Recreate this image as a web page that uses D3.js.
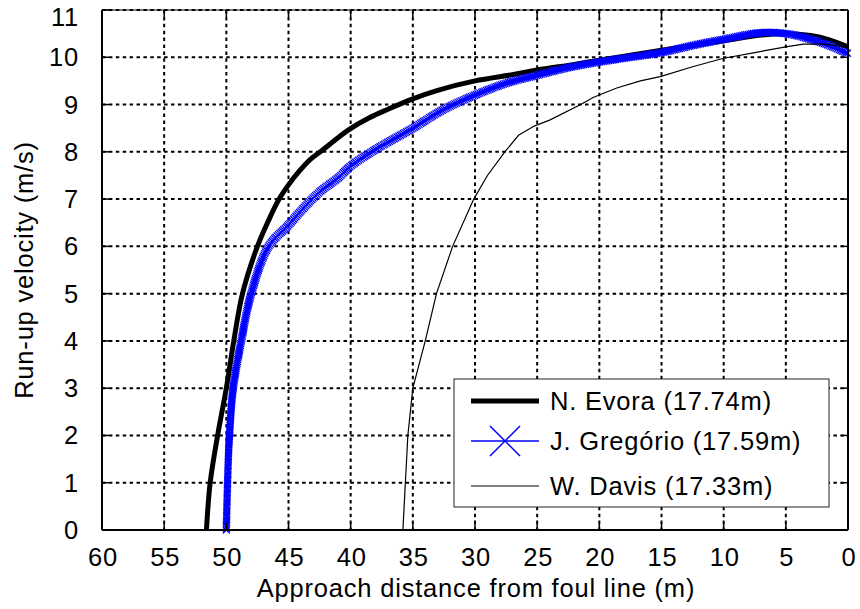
<!DOCTYPE html>
<html>
<head>
<meta charset="utf-8">
<script src="https://cdn.jsdelivr.net/npm/d3@7"></script>
<style>
  body { margin: 0; background: #fff; }
  svg text { font-family: "Liberation Sans", Arial, sans-serif; fill: #000; letter-spacing: 0.8px; }
</style>
</head>
<body>
<div id="chart"></div>
<script>
// distance from foul line (m) / run-up velocity (m/s)
var evoraDist = [51.6, 51.3, 50.7, 50.0, 49.4, 48.7, 47.5, 46.6, 45.8, 45.0, 44.1, 43.2, 42.2, 41.2, 40.2, 38.5, 37.0, 35.0, 33.0, 30.0, 27.0, 25.0, 22.0, 20.0, 15.0, 10.0, 7.0, 5.0, 3.0, 1.5, 0];
var evoraVel  = [0, 1, 2, 3, 4, 5, 6, 6.55, 6.98, 7.3, 7.6, 7.85, 8.05, 8.26, 8.46, 8.72, 8.9, 9.12, 9.3, 9.5, 9.63, 9.73, 9.85, 9.94, 10.15, 10.35, 10.47, 10.5, 10.46, 10.37, 10.22];

var gregDist = [50.0, 49.9, 49.75, 49.45, 48.8, 48.0, 46.6, 45.0, 44.0, 42.5, 41.0, 40.0, 38.0, 35.0, 32.5, 30.0, 27.5, 25.0, 22.5, 20.0, 17.5, 15.0, 12.5, 10.0, 7.0, 5.0, 3.0, 1.5, 0];
var gregVel  = [0, 1, 2, 3, 4, 5, 6, 6.45, 6.75, 7.15, 7.45, 7.7, 8.05, 8.5, 8.9, 9.2, 9.45, 9.62, 9.78, 9.9, 10.0, 10.1, 10.25, 10.38, 10.52, 10.5, 10.38, 10.25, 10.08];

var davisDist = [35.8, 35.7, 35.6, 35.4, 35.0, 34.0, 33.1, 31.8, 30.1, 29.0, 27.6, 26.5, 25.2, 24.0, 21.5, 20.5, 18.6, 16.7, 15.1, 12.5, 10.0, 7.5, 5.0, 3.6, 2.0, 1.0, 0];
var davisVel  = [0, 0.5, 1, 2, 3, 4, 5, 6, 7, 7.5, 8.0, 8.35, 8.55, 8.67, 9.0, 9.15, 9.35, 9.5, 9.59, 9.8, 9.98, 10.1, 10.22, 10.28, 10.28, 10.25, 10.2];

var xTicks = [60, 55, 50, 45, 40, 35, 30, 25, 20, 15, 10, 5, 0];
var yTicks = [0, 1, 2, 3, 4, 5, 6, 7, 8, 9, 10, 11];
var legendNames = ["N. Evora (17.74m)", "J. Gregório (17.59m)", "W. Davis (17.33m)"];

var W = 860, H = 609;
var pL = 102, pR = 848, pT = 10, pB = 530;
var fs = 25.5;

var svg = d3.select("#chart").append("svg")
    .attr("width", W)
    .attr("height", H);

var x = d3.scaleLinear().domain([60, 0]).range([pL, pR]);
var y = d3.scaleLinear().domain([0, 11]).range([pB, pT]);

function zipped(ds, vs) {
    return ds.map(function (d, i) { return [d, vs[i]]; });
}

// grid (dotted)
var dash = "3.5,3.4";
var grid = svg.append("g").attr("class", "grid");
grid.selectAll("line.vx")
    .data(xTicks.filter(function (t) { return t != 60 && t != 0; }))
    .enter().append("line")
    .attr("x1", function (d) { return x(d); })
    .attr("x2", function (d) { return x(d); })
    .attr("y1", pT).attr("y2", pB)
    .attr("stroke", "#000").attr("stroke-width", 2)
    .attr("stroke-dasharray", dash);
grid.selectAll("line.hy")
    .data(yTicks.filter(function (t) { return t != 0 && t != 11; }))
    .enter().append("line")
    .attr("y1", function (d) { return y(d); })
    .attr("y2", function (d) { return y(d); })
    .attr("x1", pL).attr("x2", pR)
    .attr("stroke", "#000").attr("stroke-width", 2)
    .attr("stroke-dasharray", dash);
grid.append("line").attr("x1", pL).attr("x2", pR).attr("y1", y(11)).attr("y2", y(11))
    .attr("stroke", "#000").attr("stroke-width", 2).attr("stroke-dasharray", dash);

var line = d3.line()
    .x(function (d) { return x(d[0]); })
    .y(function (d) { return y(d[1]); });
var smooth = d3.line()
    .curve(d3.curveCatmullRom.alpha(0.5))
    .x(function (d) { return x(d[0]); })
    .y(function (d) { return y(d[1]); });

var plot = svg.append("g");

// N. Evora - thick black
plot.append("path")
    .datum(zipped(evoraDist, evoraVel))
    .attr("d", smooth)
    .attr("fill", "none")
    .attr("stroke", "#000")
    .attr("stroke-width", 5)
    .attr("stroke-linejoin", "round");

// J. Gregorio - blue with dense x markers
var gPath = plot.append("path")
    .datum(zipped(gregDist, gregVel))
    .attr("d", smooth)
    .attr("fill", "none")
    .attr("stroke", "#0000ff")
    .attr("stroke-width", 1.5);

var node = gPath.node();
var len = node.getTotalLength();
var mk = [];
for (var s = 0; s <= len; s += 1.8) {
    mk.push(node.getPointAtLength(s));
}
var m = 3.5;
plot.append("path")
    .attr("d", mk.map(function (p) {
        return "M" + (p.x - m) + "," + (p.y - m) + "L" + (p.x + m) + "," + (p.y + m) +
            "M" + (p.x - m) + "," + (p.y + m) + "L" + (p.x + m) + "," + (p.y - m);
    }).join(""))
    .attr("fill", "none")
    .attr("stroke", "#0000ff")
    .attr("stroke-width", 1.2);

// W. Davis - thin black
plot.append("path")
    .datum(zipped(davisDist, davisVel))
    .attr("d", line)
    .attr("fill", "none")
    .attr("stroke", "#000")
    .attr("stroke-width", 1.2);

// frame
svg.append("line").attr("x1", pL).attr("x2", pL).attr("y1", pT).attr("y2", pB)
    .attr("stroke", "#000").attr("stroke-width", 2);
svg.append("line").attr("x1", pL).attr("x2", pR).attr("y1", pB).attr("y2", pB)
    .attr("stroke", "#000").attr("stroke-width", 2);
svg.append("line").attr("x1", pR).attr("x2", pR).attr("y1", pT).attr("y2", pB)
    .attr("stroke", "#000").attr("stroke-width", 2);
svg.append("line").attr("x1", pL).attr("x2", pR).attr("y1", pT).attr("y2", pT)
    .attr("stroke", "#000").attr("stroke-width", 1);

// ticks inward on all sides
var tk = 7;
xTicks.forEach(function (t) {
    svg.append("line").attr("x1", x(t)).attr("x2", x(t)).attr("y1", pB).attr("y2", pB - tk)
        .attr("stroke", "#000").attr("stroke-width", 1.5);
    svg.append("line").attr("x1", x(t)).attr("x2", x(t)).attr("y1", pT).attr("y2", pT + tk)
        .attr("stroke", "#000").attr("stroke-width", 1.5);
});
yTicks.forEach(function (t) {
    svg.append("line").attr("x1", pL).attr("x2", pL + tk).attr("y1", y(t)).attr("y2", y(t))
        .attr("stroke", "#000").attr("stroke-width", 1.5);
    svg.append("line").attr("x1", pR).attr("x2", pR - tk).attr("y1", y(t)).attr("y2", y(t))
        .attr("stroke", "#000").attr("stroke-width", 1.5);
});

// tick labels
svg.selectAll("text.xt")
    .data(xTicks)
    .enter().append("text")
    .attr("x", function (d) { return x(d) + 1; })
    .attr("y", 566)
    .attr("text-anchor", "middle")
    .style("font-size", fs + "px")
    .text(function (d) { return d; });

svg.selectAll("text.yt")
    .data(yTicks)
    .enter().append("text")
    .attr("x", 79)
    .attr("y", function (d) { return Math.max(y(d) + 9, 26); })
    .attr("text-anchor", "end")
    .style("font-size", fs + "px")
    .text(function (d) { return d; });

// axis labels
svg.append("text")
    .attr("x", (pL + pR) / 2 + 1)
    .attr("y", 597)
    .attr("text-anchor", "middle")
    .style("font-size", fs + "px")
    .text("Approach distance from foul line (m)");

svg.append("text")
    .attr("transform", "translate(33," + ((pT + pB) / 2) + ")rotate(-90)")
    .attr("text-anchor", "middle")
    .style("font-size", fs + "px")
    .text("Run-up velocity (m/s)");

// legend
var lg = svg.append("g");
lg.append("rect")
    .attr("x", 454).attr("y", 379)
    .attr("width", 375).attr("height", 128)
    .attr("fill", "#fff")
    .attr("stroke", "#222")
    .attr("stroke-width", 1);

var rowsY = [401, 441, 486];
var styles = [
    { w: 5, c: "#000", marker: false },
    { w: 1.5, c: "#0000ff", marker: true },
    { w: 1.2, c: "#000", marker: false }
];
legendNames.forEach(function (name, i) {
    var ry = rowsY[i];
    lg.append("line").attr("x1", 471).attr("x2", 539).attr("y1", ry).attr("y2", ry)
        .attr("stroke", styles[i].c).attr("stroke-width", styles[i].w);
    if (styles[i].marker) {
        var cx = 505, h = 15;
        lg.append("path")
            .attr("d", "M" + (cx - h) + "," + (ry - h) + "L" + (cx + h) + "," + (ry + h) +
                "M" + (cx - h) + "," + (ry + h) + "L" + (cx + h) + "," + (ry - h))
            .attr("stroke", styles[i].c).attr("stroke-width", 1.5);
    }
    lg.append("text")
        .attr("x", 550)
        .attr("y", ry + 9)
        .style("font-size", fs + "px")
        .text(name);
});
</script>
</body>
</html>
